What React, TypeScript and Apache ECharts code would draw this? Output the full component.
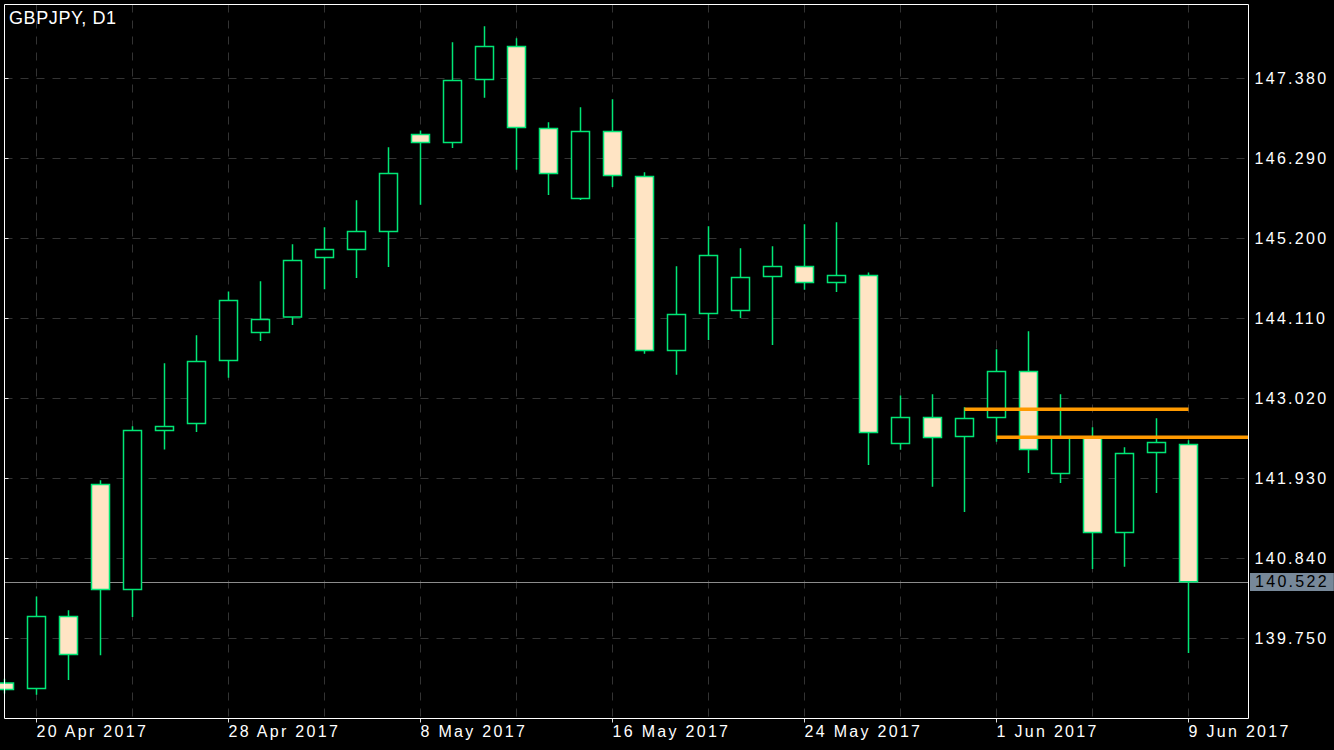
import React, { useEffect, useRef } from 'react';
import * as echarts from 'echarts';

const chartTitle = 'GBPJPY, D1';

const dates = [
  '19 Apr 2017', '20 Apr 2017', '21 Apr 2017', '24 Apr 2017', '25 Apr 2017', '26 Apr 2017', '27 Apr 2017',
  '28 Apr 2017', '1 May 2017', '2 May 2017', '3 May 2017', '4 May 2017', '5 May 2017', '8 May 2017',
  '9 May 2017', '10 May 2017', '11 May 2017', '12 May 2017', '15 May 2017', '16 May 2017', '17 May 2017',
  '18 May 2017', '19 May 2017', '22 May 2017', '23 May 2017', '24 May 2017', '25 May 2017', '26 May 2017',
  '29 May 2017', '30 May 2017', '31 May 2017', '1 Jun 2017', '2 Jun 2017', '5 Jun 2017', '6 Jun 2017',
  '7 Jun 2017', '8 Jun 2017', '9 Jun 2017',
];

const opens = [
  139.145, 139.069, 140.05, 141.848, 140.418, 142.584, 142.679, 143.538, 143.919, 144.132, 144.941, 145.05,
  145.295, 146.617, 146.508, 147.366, 147.816, 146.699, 145.745, 146.658, 146.045, 143.674, 144.178, 144.219,
  144.682, 144.818, 144.6, 144.696, 142.407, 142.761, 142.502, 142.761, 143.388, 141.998, 142.493, 141.194,
  142.284, 142.393,
];
const closes = [
  139.055, 140.05, 139.532, 140.418, 142.584, 142.638, 143.524, 144.355, 144.096, 144.9, 145.05, 145.295,
  146.086, 146.508, 147.353, 147.816, 146.712, 146.086, 146.658, 146.058, 143.674, 144.164, 144.968, 144.669,
  144.818, 144.6, 144.696, 142.557, 142.761, 142.489, 142.747, 143.388, 142.325, 142.493, 141.194, 142.271,
  142.42, 140.522,
];
const lows = [
  139.0, 138.982, 139.186, 139.522, 140.044, 142.325, 142.565, 143.301, 143.805, 144.023, 144.509, 144.663,
  144.813, 145.658, 146.434, 147.116, 146.135, 145.794, 145.726, 145.903, 143.628, 143.342, 143.818, 144.118,
  143.75, 144.5, 144.472, 142.115, 142.32, 141.816, 141.475, 142.429, 142.006, 141.87, 140.698, 140.726,
  141.734, 139.554,
];
const highs = [
  139.2, 140.322, 140.136, 141.907, 142.643, 143.501, 143.882, 144.478, 144.618, 145.122, 145.354, 145.722,
  146.444, 146.671, 147.875, 148.093, 147.929, 146.785, 146.989, 147.098, 146.103, 144.823, 145.368, 145.068,
  145.095, 145.395, 145.422, 144.737, 143.061, 143.079, 142.901, 143.692, 143.937, 143.079, 142.629, 142.356,
  142.752, 142.452,
];

const xLabelDates = ['20 Apr 2017', '28 Apr 2017', '8 May 2017', '16 May 2017', '24 May 2017', '1 Jun 2017', '9 Jun 2017'];
const yTicks = [139.75, 140.84, 141.93, 143.02, 144.11, 145.2, 146.29, 147.38];

const levelA = { value: 142.874, from: '31 May 2017', to: '9 Jun 2017' };
const levelB = { value: 142.493, from: '1 Jun 2017' };

const GREEN = '#00e676';
const BISQUE = '#ffe4c4';
const ORANGE = '#ff9a00';
const GRID = '#333333';
const FONT = 'Liberation Sans';

export default function App() {
  const ref = useRef<HTMLDivElement>(null);

  useEffect(() => {
    if (!ref.current) return;
    const chart = echarts.init(ref.current, null, { renderer: 'svg' });

    const xMin = 0;
    const xMax = 38.875;
    const yMin = 138.66;
    const yMax = 148.388;

    const candleData = dates.map((d, i) => [i, opens[i], closes[i], lows[i], highs[i]]);
    const labelIdx = xLabelDates.map((d) => dates.indexOf(d));
    const gridIdx: number[] = [];
    for (let i = dates.indexOf('20 Apr 2017'); i < dates.length; i += 3) gridIdx.push(i);
    const lastPrice = closes[closes.length - 1];

    const option: any = {
      animation: false,
      backgroundColor: '#000000',
      grid: {
        left: 4.5,
        top: 4.5,
        width: 1244,
        height: 714,
        show: false,
        containLabel: false,
        outerBoundsMode: 'none',
      },
      xAxis: [
        {
          type: 'value',
          min: xMin,
          max: xMax,
          position: 'bottom',
          axisLine: { show: false },
          splitLine: { show: false },
          axisTick: { show: true, length: 4, customValues: labelIdx, lineStyle: { color: '#dddddd', width: 1 } },
          axisLabel: {
            customValues: labelIdx,
            formatter: (v: number) => dates[Math.round(v)],
            align: 'left',
            margin: 5,
            color: '#ffffff',
            fontSize: 16,
            fontFamily: FONT,
          },
        },
        {
          type: 'value',
          min: xMin,
          max: xMax,
          position: 'top',
          axisLine: { show: false },
          axisTick: { show: false, customValues: gridIdx },
          axisLabel: { show: false },
          splitLine: { show: true, lineStyle: { color: GRID, type: [8, 8], width: 1 } },
        },
      ],
      yAxis: {
        type: 'value',
        position: 'right',
        min: yMin,
        max: yMax,
        axisLine: { show: false },
        axisTick: { show: true, length: 4, customValues: yTicks, lineStyle: { color: '#dddddd', width: 1 } },
        axisLabel: {
          customValues: yTicks,
          formatter: (v: number) => v.toFixed(3),
          margin: 6,
          color: '#ffffff',
          fontSize: 16,
          fontFamily: FONT,
        },
        splitLine: { show: true, lineStyle: { color: GRID, type: [8, 8], width: 1 } },
      },
      graphic: [
        {
          type: 'rect',
          z: 100,
          silent: true,
          shape: { x: 4.5, y: 4.5, width: 1244, height: 714 },
          style: { fill: 'transparent', stroke: '#ffffff', lineWidth: 1 },
        },
        {
          type: 'text',
          z: 100,
          silent: true,
          left: 9,
          top: 9,
          style: { text: chartTitle, fill: '#ffffff', font: '18px Arial' },
        },
      ],
      series: [
        {
          type: 'candlestick',
          name: chartTitle,
          xAxisIndex: 0,
          yAxisIndex: 0,
          dimensions: ['date', 'open', 'close', 'lowest', 'highest'],
          encode: { x: 'date', y: ['open', 'close', 'lowest', 'highest'] },
          data: candleData,
          barWidth: 19,
          z: 2,
          itemStyle: {
            color: '#000000',
            color0: BISQUE,
            borderColor: GREEN,
            borderColor0: GREEN,
            borderWidth: 1.5,
          },
          markLine: {
            z: 1,
            silent: true,
            symbol: ['none', 'none'],
            lineStyle: { color: '#8c8c8c', width: 1, type: 'solid' },
            label: {
              show: true,
              position: 'end',
              distance: 1.5,
              formatter: () => lastPrice.toFixed(3),
              backgroundColor: '#778899',
              color: '#000000',
              fontSize: 16,
              fontFamily: FONT,
              padding: [1, 21, 1, 5],
            },
            emphasis: { disabled: true },
            data: [{ yAxis: lastPrice }],
          },
        },
        {
          type: 'line',
          name: 'level A',
          z: 3,
          xAxisIndex: 0,
          symbol: 'none',
          silent: true,
          lineStyle: { color: ORANGE, width: 3.5 },
          data: [
            [dates.indexOf(levelA.from), levelA.value],
            [dates.indexOf(levelA.to), levelA.value],
          ],
        },
        {
          type: 'line',
          name: 'level B',
          z: 3,
          xAxisIndex: 0,
          symbol: 'none',
          silent: true,
          lineStyle: { color: ORANGE, width: 3.5 },
          data: [
            [dates.indexOf(levelB.from), levelB.value],
            [xMax, levelB.value],
          ],
        },
      ],
    };

    chart.setOption(option);
    return () => chart.dispose();
  }, []);

  const css =
    '#gbpjpy-chart text[style*="Liberation"], #gbpjpy-chart text[font-family*="Liberation"] { letter-spacing: 2.3px; }' +
    ' #gbpjpy-chart text[style*="Arial"], #gbpjpy-chart text[font-family*="Arial"] { letter-spacing: 0.6px; }';

  return (
    <>
      <style>{css}</style>
      <div
        id="gbpjpy-chart"
        ref={ref}
        style={{ position: 'fixed', left: 0, top: 0, width: 1334, height: 750, background: '#000' }}
      />
    </>
  );
}
